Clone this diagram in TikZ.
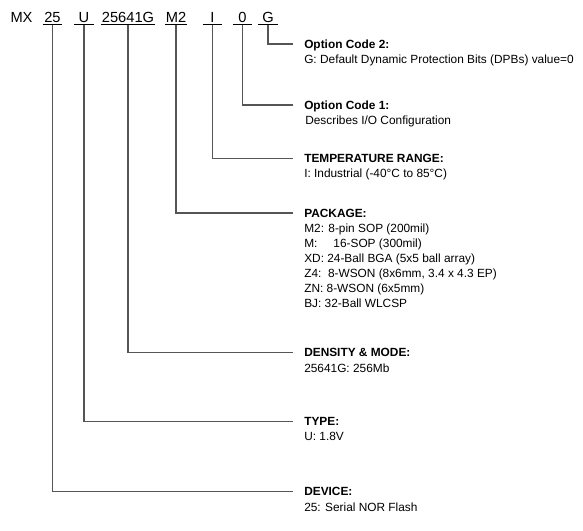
\documentclass[tikz,border=0pt]{standalone}
\usepackage{fontspec}
\setmainfont{Liberation Sans}
\usetikzlibrary{positioning}
\definecolor{wire}{RGB}{85,85,85}
\tikzset{
    code/.style={font=\fontsize{11}{13}\selectfont, text height=7.9pt, text depth=0pt, inner xsep=0.3pt, inner ysep=1.2pt, minimum width=14pt, anchor=base},
    title/.style={font=\fontsize{8.9}{10.5}\selectfont\bfseries, text height=6.4pt, text depth=0pt, inner sep=0pt, anchor=west},
    desc/.style={font=\fontsize{8.9}{11.2}\selectfont, align=left, inner sep=0pt, anchor=north west},
    link/.style={draw=wire, line width=0.9pt}
}

\begin{document}
\begin{tikzpicture}[x=0.75pt, y=-0.75pt]
    \useasboundingbox (0,0) rectangle (583,531);
    % part number
    \node[code] (mx) at (21.5,22.7) {MX};
    \node[code] (c25) at (52.5,22.7) {25};
    \node[code] (cu) at (84,22.7) {U};
    \node[code] (cdens) at (128,22.7) {25641G};
    \node[code] (cpkg) at (176,22.7) {M2};
    \node[code] (ctemp) at (212.5,22.7) {I};
    \node[code] (copt1) at (242.5,22.7) {0};
    \node[code] (copt2) at (268,22.7) {G};
    \foreach \n in {c25,cu,cdens,cpkg,ctemp,copt1,copt2}
        \draw[line width=0.75pt] (\n.south west) -- (\n.south east);

    % fields
    \node[title] (opt2) at (304,44) {Option Code 2:};
    \node[desc] (opt2d) at ([yshift=-4.5pt]opt2.south west) {G: Default Dynamic Protection Bits (DPBs) value=0};
    \node[title] (opt1) at (304,105) {Option Code 1:};
    \node[desc] (opt1d) at ([yshift=-4.5pt]opt1.south west) {\hspace*{0.8pt}Describes I/O Configuration};
    \node[title] (temp) at (304,158.5) {TEMPERATURE RANGE:};
    \node[desc] (tempd) at ([yshift=-4.5pt]temp.south west) {I: Industrial (-40°C to 85°C)};
    \node[title] (pkg) at (304,213) {PACKAGE:};
    \node[desc] (pkgd) at ([yshift=-4.75pt]pkg.south west) {M2: 8-pin SOP (200mil)\\
        M:\hspace{12pt}16-SOP (300mil)\\
        XD: 24-Ball BGA (5x5 ball array)\\
        Z4:\ \ 8-WSON (8x6mm, 3.4 x 4.3 EP)\\
        ZN: 8-WSON (6x5mm)\\
        BJ: 32-Ball WLCSP};
    \node[title] (dens) at (304,352.7) {DENSITY \& MODE:};
    \node[desc] (densd) at ([yshift=-4.5pt]dens.south west) {25641G: 256Mb};
    \node[title] (type) at (304,421.7) {TYPE:};
    \node[desc] (typed) at ([yshift=-4.5pt]type.south west) {U: 1.8V};
    \node[title] (dev) at (304,491.7) {DEVICE:};
    \node[desc] (devd) at ([yshift=-4.5pt]dev.south west) {25: Serial NOR Flash};

    % links
    \draw[link] (copt2.south) |- ([xshift=-8pt]opt2.west);
    \draw[link] (copt1.south) |- ([xshift=-8pt]opt1.west);
    \draw[link] (ctemp.south) |- ([xshift=-8pt]temp.west);
    \draw[link] (cpkg.south) |- ([xshift=-8pt]pkg.west);
    \draw[link] (cdens.south) |- ([xshift=-8pt]dens.west);
    \draw[link] (cu.south) |- ([xshift=-8pt]type.west);
    \draw[link] (c25.south) |- ([xshift=-8pt]dev.west);
\end{tikzpicture}
\end{document}
